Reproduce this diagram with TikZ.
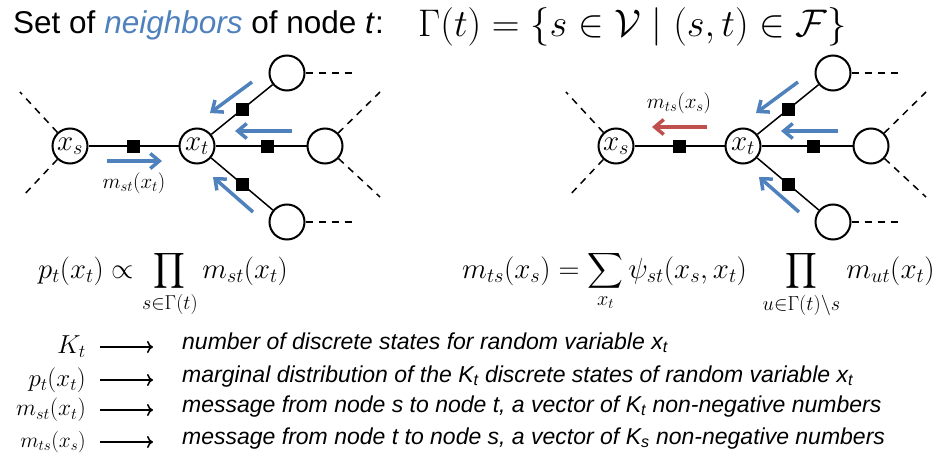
\RequirePackage{fix-cm}
\documentclass[tikz,border=0pt]{standalone}
\usepackage{fontspec}
\setsansfont{Liberation Sans}
\usepackage{mathtools}
\usetikzlibrary{arrows.meta}
\definecolor{msgblue}{RGB}{79,129,189}
\definecolor{msgred}{RGB}{192,80,77}

\begin{document}
\begin{tikzpicture}
  [x=1pt,y=-1pt,every node/.style={inner sep=0pt},
   var/.style={circle,draw,line width=2pt,minimum size=35pt,font=\fontsize{29}{30}\selectfont},
   factor/.style={rectangle,fill=black,minimum size=13pt},
   link/.style={line width=1.5pt},
   loose/.style={line width=1.5pt,dash pattern=on 7pt off 6pt},
   msg/.style={line width=3.5pt,msgblue,-{Straight Barb[length=9pt,width=15pt]}},
   deflab/.style={anchor=east,inner sep=2pt},
   deftxt/.style={anchor=mid west,font=\fontsize{23}{26}\selectfont\sffamily\itshape},
   def/.style={line width=1.6pt,-{To[length=6pt,width=12pt]},shorten <=12pt,shorten >=29pt}]
  \useasboundingbox (0,0) rectangle (946,463);
  \tikzstyle{msglab} = [font=\fontsize{21}{22}\selectfont]

  % title
  \node[anchor=base west] (title) at (13,33)
    {\fontsize{31.5}{34}\selectfont\sffamily Set of \textit{\color{msgblue}neighbors} of node \textit{t}:};
  \node[anchor=base west] (gamma) at (418,36)
    {\fontsize{38.5}{42}\selectfont$\Gamma(t) = \{ s \in \mathcal{V} \mid (s,t) \in \mathcal{F} \}$};

  % the two factor graphs
  \foreach \g/\dx in {L/0,R/546}{
    \begin{scope}[xshift=\dx pt]
      \node[var] (\g s) at (70,146)  {$x_s$};
      \node[var] (\g t) at (197,146) {$x_t$};
      \node[var] (\g u) at (287,73)  {};
      \node[var] (\g r) at (325,146) {};
      \node[var] (\g d) at (287,222) {};
      \draw[link] (\g s) -- node[factor] (\g fs) {} (\g t);
      \draw[link] (\g t) -- node[factor] (\g fu) {} (\g u);
      \draw[link] (\g t) -- node[factor,pos=.57] (\g fr) {} (\g r);
      \draw[link] (\g t) -- node[factor] (\g fd) {} (\g d);
      \coordinate (\g e1) at (20,92);
      \coordinate (\g e2) at (22,197);
      \coordinate (\g e3) at (355,73);
      \coordinate (\g e4) at (380,92);
      \coordinate (\g e5) at (380,197);
      \coordinate (\g e6) at (355,222);
      \foreach \a/\b in {s/e1,s/e2,u/e3,r/e4,r/e5,d/e6}
        \draw[loose] (\g\a) -- (\g\b);
      % incoming messages
      \coordinate (\g ua) at (252,82);  \coordinate (\g ub) at (210,113);
      \coordinate (\g ra) at (292,131); \coordinate (\g rb) at (235,131);
      \coordinate (\g da) at (253,212); \coordinate (\g db) at (213,177);
      \foreach \m in {u,r,d}
        \draw[msg] (\g\m a) -- (\g\m b);
    \end{scope}
  }

  % m_st on the left, m_ts on the right
  \coordinate (Lsa) at (107,161); \coordinate (Lsb) at (162,161);
  \draw[msg] (Lsa) -- (Lsb);
  \node[msglab] (Llab) at (134,183) {$m_{st}(x_t)$};
  \coordinate (Rsa) at (707,127); \coordinate (Rsb) at (652,127);
  \draw[msg,msgred] (Rsa) -- (Rsb);
  \node[msglab] (Rlab) at (679,103) {$m_{ts}(x_s)$};

  % formulas
  \node[anchor=base west] (belief) at (38,278)
    {\fontsize{28.7}{32}\selectfont$\displaystyle p_t(x_t) \propto \prod_{s\in\Gamma(t)} m_{st}(x_t)$};
  \node[anchor=base west] (update) at (462,278)
    {\fontsize{29}{32}\selectfont$\displaystyle m_{ts}(x_s) = \sum_{x_t} \psi_{st}(x_s,x_t)\quad\,
      \prod_{\mathclap{u\in\Gamma(t)\setminus s}}\;\;\; m_{ut}(x_t)$};

  % definitions
  \node[deflab,font=\fontsize{26}{28}\selectfont] (kt) at (88,347) {$K_t$};
  \node[deftxt] (ktd) at (182,347) {number of discrete states for random variable x\textsubscript{t}};
  \node[deflab,font=\fontsize{25}{27}\selectfont] (pt) at (88,380) {$p_t(x_t)$};
  \node[deftxt] (ptd) at (182,380) {marginal distribution of the K\textsubscript{t} discrete states of random variable x\textsubscript{t}};
  \node[deflab,font=\fontsize{23.4}{25}\selectfont] (mst) at (88,410) {$m_{st}(x_t)$};
  \node[deftxt] (mstd) at (182,410) {message from node s to node t, a vector of K\textsubscript{t} non-negative numbers};
  \node[deflab,font=\fontsize{21.4}{23}\selectfont] (mts) at (88,442) {$m_{ts}(x_s)$};
  \node[deftxt] (mtsd) at (182,442) {message from node t to node s, a vector of K\textsubscript{s} non-negative numbers};
  \foreach \n in {kt,pt,mst,mts}
    \draw[def] (\n.east) -- (\n.east -| \n d.west);

\end{tikzpicture}
\end{document}
